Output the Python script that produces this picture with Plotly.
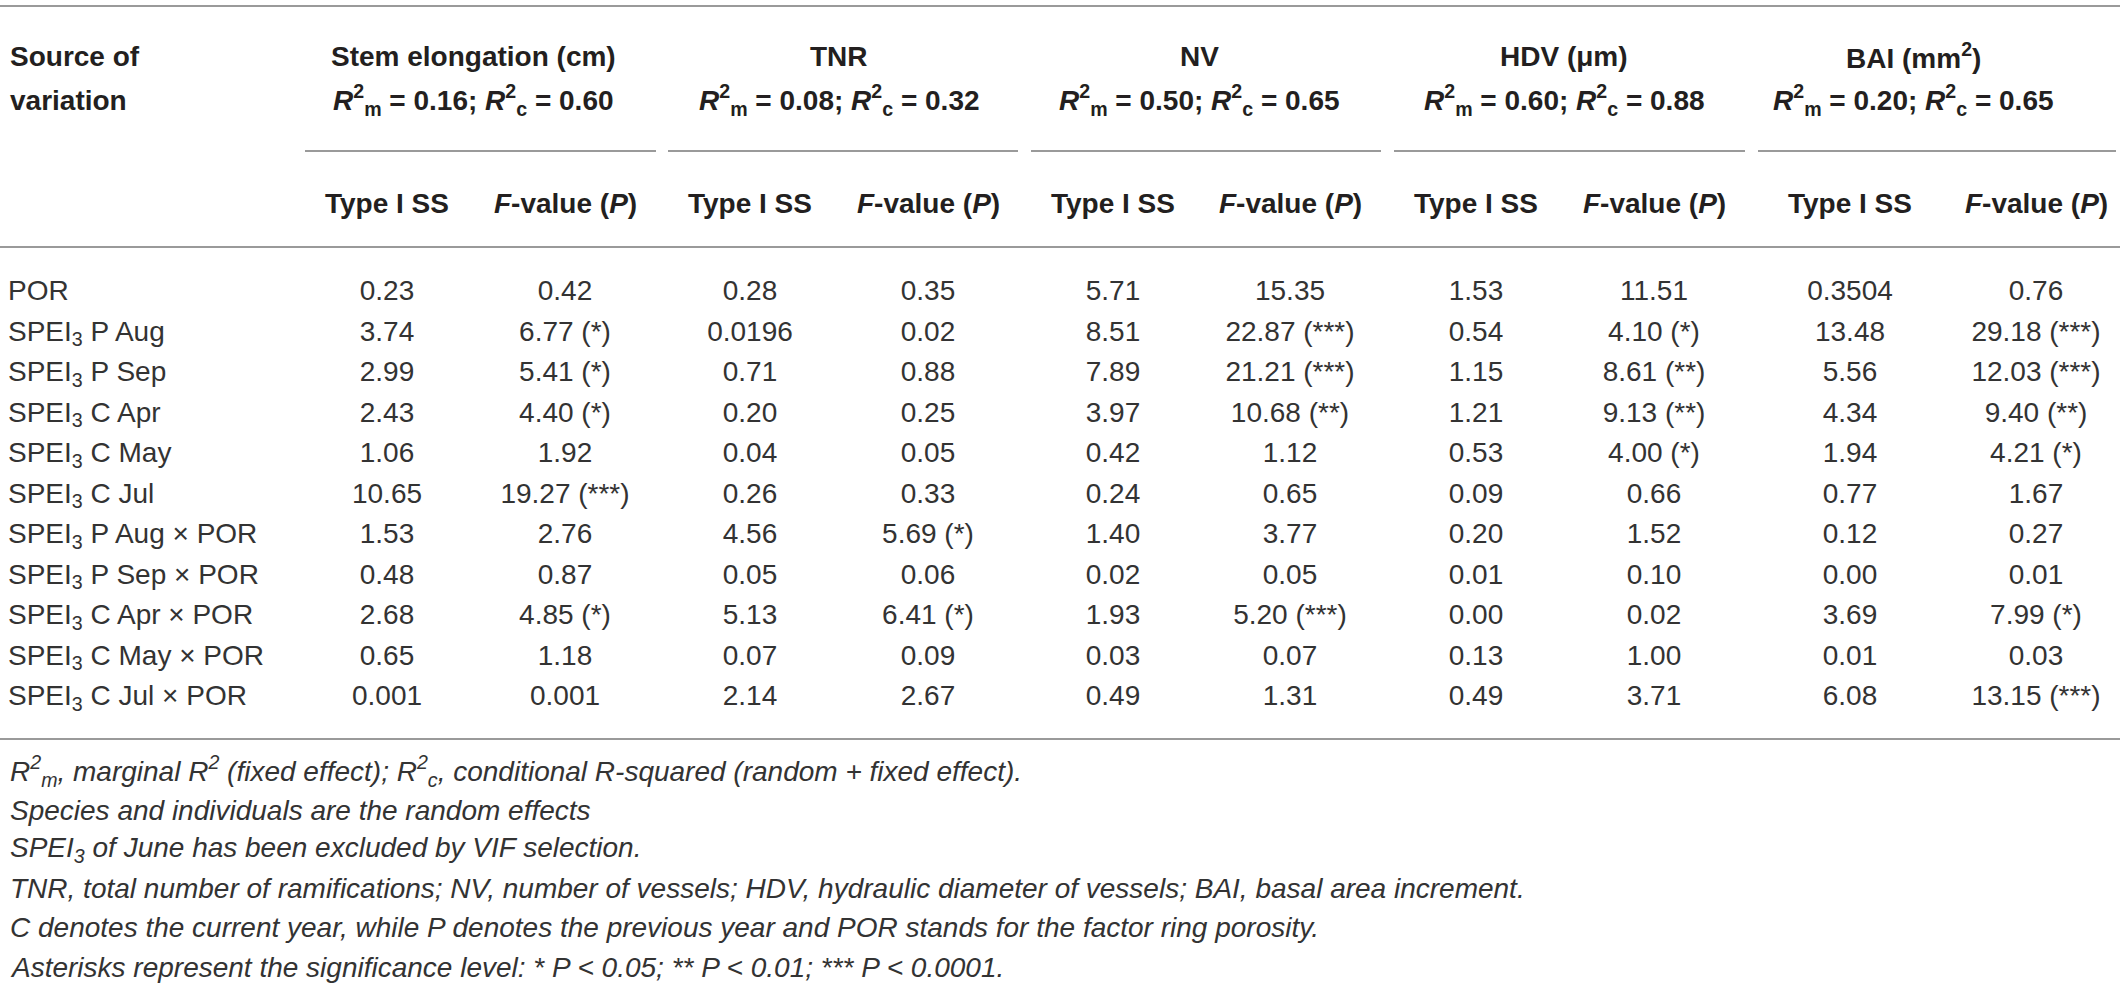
import plotly.graph_objects as go

# ---- table content ----
sources = [
    "POR",
    "SPEI<sub>3</sub> P Aug",
    "SPEI<sub>3</sub> P Sep",
    "SPEI<sub>3</sub> C Apr",
    "SPEI<sub>3</sub> C May",
    "SPEI<sub>3</sub> C Jul",
    "SPEI<sub>3</sub> P Aug × POR",
    "SPEI<sub>3</sub> P Sep × POR",
    "SPEI<sub>3</sub> C Apr × POR",
    "SPEI<sub>3</sub> C May × POR",
    "SPEI<sub>3</sub> C Jul × POR",
]

responses = ["Stem elongation (cm)", "TNR", "NV", "HDV (μm)", "BAI (mm<sup>2</sup>)"]
r2_marginal = ["0.16", "0.08", "0.50", "0.60", "0.20"]
r2_conditional = ["0.60", "0.32", "0.65", "0.88", "0.65"]
sub_headers = ["Type I SS", "<i>F</i>-value (<i>P</i>)"]

stem_ss = ["0.23", "3.74", "2.99", "2.43", "1.06", "10.65", "1.53", "0.48", "2.68", "0.65", "0.001"]
stem_f = ["0.42", "6.77 (*)", "5.41 (*)", "4.40 (*)", "1.92", "19.27 (***)", "2.76", "0.87",
          "4.85 (*)", "1.18", "0.001"]
tnr_ss = ["0.28", "0.0196", "0.71", "0.20", "0.04", "0.26", "4.56", "0.05", "5.13", "0.07", "2.14"]
tnr_f = ["0.35", "0.02", "0.88", "0.25", "0.05", "0.33", "5.69 (*)", "0.06", "6.41 (*)", "0.09", "2.67"]
nv_ss = ["5.71", "8.51", "7.89", "3.97", "0.42", "0.24", "1.40", "0.02", "1.93", "0.03", "0.49"]
nv_f = ["15.35", "22.87 (***)", "21.21 (***)", "10.68 (**)", "1.12", "0.65", "3.77", "0.05",
        "5.20 (***)", "0.07", "1.31"]
hdv_ss = ["1.53", "0.54", "1.15", "1.21", "0.53", "0.09", "0.20", "0.01", "0.00", "0.13", "0.49"]
hdv_f = ["11.51", "4.10 (*)", "8.61 (**)", "9.13 (**)", "4.00 (*)", "0.66", "1.52", "0.10",
         "0.02", "1.00", "3.71"]
bai_ss = ["0.3504", "13.48", "5.56", "4.34", "1.94", "0.77", "0.12", "0.00", "3.69", "0.01", "6.08"]
bai_f = ["0.76", "29.18 (***)", "12.03 (***)", "9.40 (**)", "4.21 (*)", "1.67", "0.27", "0.01",
         "7.99 (*)", "0.03", "13.15 (***)"]

footnotes = [
    "R<sup>2</sup><sub>m</sub>, marginal R<sup>2</sup> (fixed effect); R<sup>2</sup><sub>c</sub>, "
    "conditional R-squared (random + fixed effect).",
    "Species and individuals are the random effects",
    "SPEI<sub>3</sub> of June has been excluded by VIF selection.",
    "TNR, total number of ramifications; NV, number of vessels; HDV, hydraulic diameter of vessels; "
    "BAI, basal area increment.",
    "C denotes the current year, while P denotes the previous year and POR stands for the factor ring porosity.",
    "Asterisks represent the significance level: * P &lt; 0.05; ** P &lt; 0.01; *** P &lt; 0.0001.",
]

columns = [stem_ss, stem_f, tnr_ss, tnr_f, nv_ss, nv_f, hdv_ss, hdv_f, bai_ss, bai_f]

# ---- layout (pixels) ----
W, H = 2120, 983
FONT = "Liberation Sans, Arial, sans-serif"
TXT = "#231f20"
VAL = "#333333"
RULE = "#9a9a9a"
FS = 28
COL_X = [387, 565, 750, 928, 1113, 1290, 1476, 1654, 1850, 2036]
HEAD_X = [473, 839, 1199, 1564, 1913]
SPANS = [(305, 656), (668, 1018), (1031, 1381), (1394, 1745), (1758, 2116)]
ROW_Y0, ROW_H = 293, 40.5
NOTE_Y0, NOTE_H = 771, 39.2
row_y = [ROW_Y0 + i * ROW_H for i in range(len(sources))]

fig = go.Figure()

# row labels
fig.add_trace(go.Scatter(
    x=[8] * len(sources), y=row_y, mode="text", text=sources,
    textposition="middle right",
    textfont=dict(family=FONT, size=FS, color=VAL),
    hoverinfo="skip",
))

# value columns
for cx, vals in zip(COL_X, columns):
    fig.add_trace(go.Scatter(
        x=[cx] * len(vals), y=row_y, mode="text", text=vals,
        textposition="middle center",
        textfont=dict(family=FONT, size=FS, color=VAL),
        hoverinfo="skip",
    ))

ann = []
ann.append(dict(x=8, y=56, text="<b>Source of</b>", xanchor="left"))
ann.append(dict(x=8, y=100, text="<b>variation</b>", xanchor="left"))
for hx, name, rm_, rc_ in zip(HEAD_X, responses, r2_marginal, r2_conditional):
    ann.append(dict(x=hx, y=56, text=f"<b>{name}</b>", xanchor="center"))
    ann.append(dict(
        x=hx, y=100, xanchor="center",
        text=f"<b><i>R</i><sup>2</sup><sub>m</sub> = {rm_}; <i>R</i><sup>2</sup><sub>c</sub> = {rc_}</b>",
    ))
for i, cx in enumerate(COL_X):
    ann.append(dict(x=cx, y=203, text=f"<b>{sub_headers[i % 2]}</b>", xanchor="center"))
for a in ann:
    a.update(font=dict(family=FONT, size=FS, color=TXT))
for i, note in enumerate(footnotes):
    ann.append(dict(x=8, y=NOTE_Y0 + i * NOTE_H, text=f"<i>{note}</i>", xanchor="left",
                    font=dict(family=FONT, size=FS, color=VAL)))

for a in ann:
    a.update(xref="x", yref="y", yanchor="middle", showarrow=False)
    fig.add_annotation(**a)

# rules
line = dict(color=RULE, width=2)
for y in (6, 247, 739):
    fig.add_shape(type="line", x0=0, x1=W, y0=y, y1=y, xref="x", yref="y", line=line)
for x0, x1 in SPANS:
    fig.add_shape(type="line", x0=x0, x1=x1, y0=151, y1=151, xref="x", yref="y", line=line)

fig.update_layout(
    width=W, height=H,
    margin=dict(l=0, r=0, t=0, b=0),
    paper_bgcolor="white", plot_bgcolor="white",
    showlegend=False,
)
fig.update_xaxes(range=[0, W], visible=False, fixedrange=True)
fig.update_yaxes(range=[H, 0], visible=False, fixedrange=True)

fig.write_html("out.html", config={"displayModeBar": False},
               post_script="document.body.style.margin='0';")
